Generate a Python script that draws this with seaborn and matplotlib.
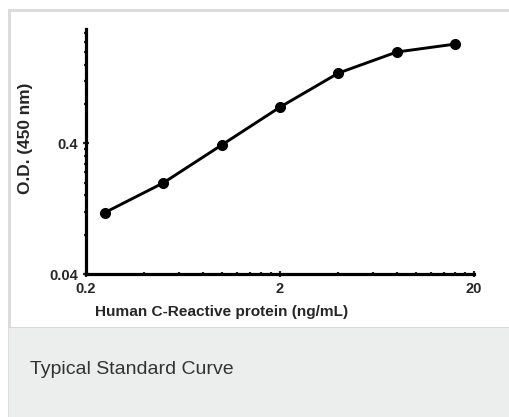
import matplotlib
matplotlib.use("Agg")
import matplotlib.pyplot as plt
import matplotlib.ticker as mticker
from matplotlib.patches import Rectangle
import pandas as pd
import seaborn as sns

# Standard curve data
concentration = [0.25, 0.5, 1.0, 2.0, 4.0, 8.0, 16.0]
od_450 = [0.118, 0.199, 0.388, 0.757, 1.38, 2.0, 2.3]
x_ticks = [0.2, 2, 20]
x_tick_labels = ["0.2", "2", "20"]
y_ticks = [0.04, 0.4]
y_tick_labels = ["0.04", "0.4"]

df = pd.DataFrame({"conc": concentration, "od": od_450})

sns.set_style("ticks")
plt.rcParams["font.family"] = ["Liberation Sans", "DejaVu Sans"]

fig = plt.figure(figsize=(5.10, 4.17), dpi=100)
W, H = 510, 417

# card frame and caption band
fig.patches.append(Rectangle((9.5 / W, -0.1), 1.2, 1.1 - 9.5 / H, transform=fig.transFigure,
                             facecolor="white", edgecolor="#dcdcdc", linewidth=2.2, zorder=0))
fig.patches.append(Rectangle((9 / W, 0), 1, 1 - 327 / H, transform=fig.transFigure,
                             facecolor="#eceeee", edgecolor="none", zorder=1))
fig.patches.append(Rectangle((9 / W, 1 - 328 / H), 1, 1.2 / H, transform=fig.transFigure,
                             facecolor="#d6d8d8", edgecolor="none", zorder=1))
fig.text(30 / W, 1 - 370 / H, "Typical Standard Curve", fontsize=14, color="#333333",
         va="center", ha="left")

ax = fig.add_axes([86 / W, 1 - 274 / H, 388 / W, 245 / H])
ax.set_zorder(3)
ax.set_facecolor("none")

sns.lineplot(data=df, x="conc", y="od", ax=ax, color="black", linewidth=2.1,
             marker="o", markersize=7.2, markeredgecolor="black", markerfacecolor="black")

ax.set_xscale("log")
ax.set_yscale("log")
ax.set_xlim(0.2, 20)
ax.set_ylim(0.04, 3.0)

ax.xaxis.set_major_locator(mticker.FixedLocator(x_ticks))
ax.xaxis.set_major_formatter(mticker.FixedFormatter(x_tick_labels))
ax.xaxis.set_minor_locator(mticker.FixedLocator([0.2 * k for k in range(2, 10)] + [2 * k for k in range(2, 10)]))
ax.xaxis.set_minor_formatter(mticker.NullFormatter())
ax.yaxis.set_major_locator(mticker.FixedLocator(y_ticks))
ax.yaxis.set_major_formatter(mticker.FixedFormatter(y_tick_labels))
ax.yaxis.set_minor_locator(mticker.FixedLocator([0.04 * k for k in range(2, 10)] + [0.4 * k for k in range(2, 8)]))
ax.yaxis.set_minor_formatter(mticker.NullFormatter())

sns.despine(ax=ax)
for side in ["left", "bottom"]:
    ax.spines[side].set_linewidth(2.3)
    ax.spines[side].set_color("black")

ax.tick_params(which="major", direction="inout", length=5, width=1.6, pad=3, labelsize=10.5)
ax.tick_params(which="minor", direction="inout", length=3.5, width=1.6)
for lab in ax.get_xticklabels() + ax.get_yticklabels():
    lab.set_fontweight("bold")

ax.set_xlabel("Human C-Reactive protein (ng/mL)", fontsize=11.1, fontweight="bold")
ax.set_ylabel("O.D. (450 nm)", fontsize=12.4, fontweight="bold")
ax.xaxis.set_label_coords(0.349, -0.127)
ax.yaxis.set_label_coords(-0.137, 0.555)

fig.savefig("out.png", dpi=100)
